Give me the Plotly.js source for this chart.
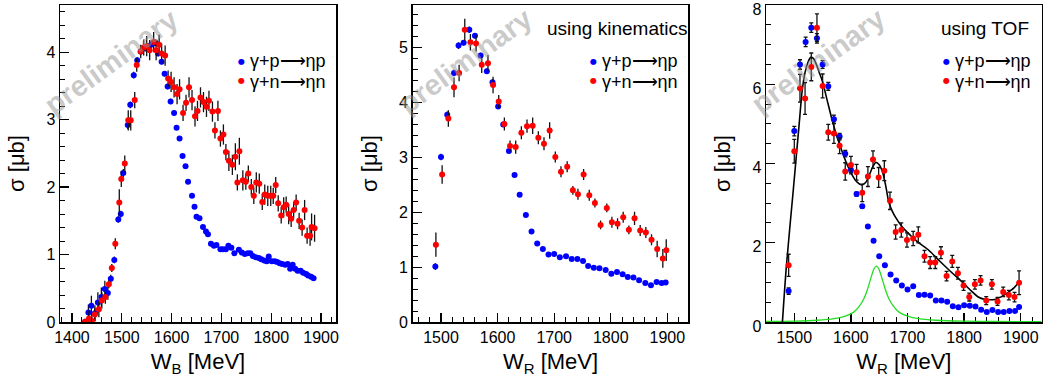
<!DOCTYPE html>
<html><head><meta charset="utf-8">
<script src="https://cdn.plot.ly/plotly-3.0.1.min.js"></script>
<style>html,body{margin:0;padding:0;background:#fff}#chart{width:1044px;height:380px}</style>
</head><body><div id="chart"></div>
<script>
// ---------- Panel 1 (W_B) ----------
const p1BlueX = [1426,1433,1439,1446,1452,1459,1466,1472,1478,1485,1493,1498,1503,1512,1517,1524,1531,1538,1547,1555,1561,1568,1573,1580,1586,1592,1598,1605,1610,1616,1622,1628,1633,1641,1646,1650,1656,1663,1669,1673,1679,1685,1690,1698,1703,1709,1714,1720,1726,1735,1741,1747,1753,1758,1763,1769,1775,1780,1786,1791,1795,1801,1807,1812,1817,1822,1828,1833,1838,1843,1848,1853,1859,1864,1870,1874,1880,1885];
const p1BlueY = [0.00,0.14,0.24,0.13,0.29,0.37,0.49,0.43,0.64,0.92,1.52,1.60,2.21,2.92,3.22,3.66,3.88,4.01,4.06,4.09,4.12,4.14,3.98,3.86,3.68,3.49,3.27,3.10,2.88,2.72,2.46,2.31,2.08,1.87,1.71,1.56,1.54,1.41,1.34,1.30,1.16,1.13,1.14,1.08,1.08,1.08,1.13,1.10,1.02,1.07,1.03,1.01,1.02,1.02,0.98,0.96,0.95,0.93,0.91,0.90,0.97,0.90,0.90,0.89,0.87,0.86,0.85,0.86,0.79,0.85,0.79,0.76,0.76,0.73,0.71,0.69,0.67,0.65];
const p1BlueE = [0.05,0.12,0.15,0.12,0.15,0.14,0.12,0.10,0.06,0.05,0.05,0.05,0.06,0.06,0.05,0.05,0.05,0.05,0.05,0.05,0.05,0.05,0.04,0.04,0.04,0.04,0.04,0.04,0.03,0.03,0.02,0.02,0.02,0.02,0.02,0.02,0.02,0.02,0.02,0.02,0.02,0.02,0.02,0.02,0.02,0.02,0.02,0.02,0.02,0.02,0.02,0.02,0.02,0.02,0.02,0.02,0.02,0.02,0.02,0.02,0.02,0.02,0.02,0.02,0.02,0.02,0.02,0.02,0.02,0.02,0.02,0.02,0.02,0.02,0.02,0.02,0.02,0.02];
const p1RedX = [1426,1434,1440,1446,1454,1460,1467,1474,1480,1487,1495,1499,1506,1513,1518,1526,1530,1538,1544,1550,1556,1564,1569,1575,1580,1587,1593,1599,1605,1611,1616,1623,1629,1635,1641,1647,1652,1658,1664,1670,1675,1682,1687,1693,1698,1704,1709,1715,1722,1728,1732,1736,1743,1749,1754,1760,1765,1770,1776,1782,1787,1793,1799,1804,1809,1814,1820,1825,1830,1835,1840,1845,1850,1856,1862,1867,1872,1878,1881,1887];
const p1RedY = [0.00,0.05,0.02,0.11,0.19,0.32,0.37,0.56,0.80,1.16,1.77,2.12,2.35,2.99,2.99,3.29,3.81,4.01,4.07,4.09,4.03,4.15,4.03,4.11,3.98,3.95,3.61,3.56,3.48,3.38,3.45,3.10,3.25,3.48,3.29,3.05,3.13,3.33,3.26,3.19,3.28,3.12,2.84,3.13,2.72,2.78,2.52,2.39,2.33,2.45,2.07,2.53,2.10,2.08,2.20,2.00,1.87,2.07,2.05,1.78,1.89,1.87,1.87,1.87,2.03,1.76,1.58,1.70,1.74,1.60,1.53,1.66,1.77,1.50,1.40,1.66,1.28,1.28,1.41,1.39];
const p1RedE = [0.05,0.12,0.10,0.10,0.12,0.12,0.10,0.06,0.06,0.08,0.20,0.12,0.12,0.15,0.15,0.12,0.10,0.10,0.12,0.15,0.15,0.15,0.15,0.15,0.15,0.15,0.12,0.15,0.15,0.15,0.15,0.12,0.12,0.15,0.15,0.15,0.15,0.15,0.15,0.15,0.15,0.15,0.12,0.15,0.12,0.15,0.12,0.15,0.15,0.20,0.12,0.20,0.15,0.12,0.12,0.12,0.12,0.15,0.15,0.12,0.15,0.15,0.15,0.12,0.12,0.12,0.12,0.15,0.12,0.15,0.12,0.12,0.12,0.12,0.12,0.15,0.12,0.15,0.20,0.20];

// ---------- Panel 2 (W_R, using kinematics) ----------
const p2BlueX = [1490,1500,1511,1523,1531,1540,1550,1560,1570,1581,1591,1601,1610,1620,1630,1639,1650,1660,1670,1680,1690,1700,1710,1721,1731,1741,1751,1760,1770,1780,1791,1801,1811,1821,1830,1840,1850,1861,1871,1881,1890,1897];
const p2BlueY = [1.01,3.01,3.78,4.54,5.04,5.09,5.33,5.22,4.86,4.57,4.37,3.93,3.60,3.12,2.68,2.32,1.95,1.65,1.43,1.33,1.23,1.24,1.18,1.20,1.15,1.15,1.11,1.02,0.99,0.98,0.95,0.88,0.91,0.87,0.82,0.81,0.76,0.71,0.67,0.73,0.71,0.72];
const p2BlueE = [0.06,0.06,0.06,0.06,0.06,0.05,0.06,0.05,0.05,0.05,0.05,0.04,0.04,0.03,0.02,0.02,0.02,0.02,0.02,0.02,0.02,0.02,0.02,0.02,0.02,0.02,0.02,0.02,0.02,0.02,0.02,0.02,0.02,0.02,0.02,0.02,0.02,0.02,0.02,0.02,0.02,0.02];
const p2RedX = [1491,1502,1513,1523,1532,1542,1552,1562,1572,1583,1592,1602,1612,1622,1632,1642,1652,1662,1672,1682,1692,1702,1712,1723,1733,1742,1752,1762,1772,1782,1793,1802,1812,1822,1832,1842,1852,1862,1872,1882,1892,1898];
const p2RedY = [1.41,2.69,3.71,4.28,4.54,5.33,5.10,5.08,4.69,4.72,4.32,4.02,3.61,3.21,3.19,3.45,3.57,3.58,3.36,3.25,3.49,3.01,2.74,2.83,2.40,2.33,2.69,2.31,2.17,1.77,2.08,1.82,1.79,1.91,1.68,1.89,1.67,1.63,1.50,1.33,1.16,1.31];
const p2RedE = [0.22,0.17,0.15,0.18,0.15,0.20,0.15,0.15,0.15,0.15,0.15,0.12,0.12,0.10,0.12,0.12,0.12,0.15,0.12,0.12,0.15,0.10,0.10,0.10,0.08,0.10,0.10,0.10,0.08,0.08,0.08,0.10,0.10,0.10,0.08,0.12,0.10,0.10,0.10,0.15,0.17,0.20];

// ---------- Panel 3 (W_R, using TOF) ----------
const p3BlueX = [1490,1500,1510,1520,1530,1540,1550,1560,1570,1580,1590,1600,1610,1620,1630,1640,1650,1660,1670,1680,1690,1700,1710,1720,1730,1740,1750,1760,1770,1780,1790,1800,1810,1820,1830,1840,1850,1860,1870,1880,1890,1897];
const p3BlueY = [0.78,4.82,6.50,7.07,7.43,7.16,6.50,5.95,5.12,4.68,4.25,3.84,3.23,2.92,2.41,2.05,1.66,1.43,1.20,1.05,0.92,0.82,0.90,0.68,0.69,0.67,0.54,0.54,0.51,0.40,0.37,0.42,0.41,0.39,0.31,0.25,0.30,0.25,0.25,0.28,0.28,0.38];
const p3BlueE = [0.08,0.12,0.12,0.12,0.12,0.12,0.10,0.10,0.10,0.08,0.08,0.06,0.05,0.04,0.04,0.03,0.03,0.03,0.03,0.03,0.03,0.03,0.03,0.03,0.03,0.03,0.03,0.03,0.03,0.03,0.03,0.03,0.03,0.03,0.03,0.03,0.03,0.03,0.03,0.03,0.03,0.03];
const p3RedX = [1490,1500,1510,1519,1530,1540,1550,1560,1570,1580,1590,1600,1610,1620,1630,1639,1649,1659,1669,1679,1689,1699,1710,1719,1730,1740,1749,1759,1769,1779,1789,1799,1809,1819,1829,1839,1849,1859,1869,1879,1889,1897];
const p3RedY = [1.43,4.31,5.90,5.64,6.44,7.43,5.96,4.79,4.76,4.45,3.80,3.96,3.78,3.26,3.67,4.10,3.65,3.82,3.06,2.27,2.32,2.07,2.11,2.20,1.66,1.50,1.50,1.75,1.16,1.53,1.23,0.92,0.63,0.95,1.05,0.54,0.95,0.52,0.76,0.68,0.63,0.99];
const p3RedE = [0.28,0.30,0.35,0.40,0.35,0.35,0.30,0.20,0.25,0.20,0.22,0.22,0.20,0.22,0.25,0.22,0.25,0.25,0.22,0.18,0.18,0.18,0.18,0.20,0.15,0.15,0.15,0.15,0.12,0.15,0.15,0.12,0.10,0.12,0.12,0.10,0.12,0.10,0.12,0.12,0.12,0.30];
const p3FitX = [1479,1486,1498,1508,1514,1519,1524,1529,1534,1539,1544,1550,1558,1567,1576,1585,1594,1603,1611,1619,1626,1632,1638,1644,1650,1656,1662,1667,1673,1679,1688,1697,1708,1718,1736,1758,1778,1795,1810,1825,1837,1846,1854,1866,1877,1888,1897];
const p3FitY = [0.00,1.41,3.30,4.90,5.85,6.30,6.55,6.68,6.65,6.50,6.30,6.06,5.60,5.09,4.65,4.28,3.95,3.69,3.53,3.46,3.52,3.69,3.90,4.03,3.97,3.78,3.40,3.02,2.80,2.64,2.45,2.30,2.15,2.02,1.83,1.52,1.25,1.03,0.82,0.63,0.57,0.56,0.57,0.64,0.74,0.86,1.01];
const p3PeakX = [1450,1500,1540,1570,1590,1605,1615,1622,1628,1633,1637,1641,1645,1649,1653,1657,1662,1668,1675,1685,1700,1720,1750,1800,1850,1937];
const p3PeakY = [0.013,0.023,0.044,0.083,0.15,0.25,0.40,0.56,0.77,1.00,1.19,1.35,1.41,1.35,1.19,1.00,0.77,0.56,0.40,0.25,0.15,0.083,0.044,0.02,0.013,0.008];

// ---------- labels ----------
const legendP = 'γ+p⟶ηp';
const legendN = 'γ+n⟶ηn';
const SUB = '<span style="font-size:15px;baseline-shift:-5px">';
const xTitleB = 'W' + SUB + 'B</span> [MeV]';
const xTitleR = 'W' + SUB + 'R</span> [MeV]';
const yTitle = 'σ [μb]';
const watermark = 'preliminary';
const note2 = 'using kinematics';
const note3 = 'using TOF';

const FONT = 'Liberation Sans, Arial, Helvetica, sans-serif';
const BLUE = '#0000ff', RED = '#ff0000';
const W = 1044, H = 380, MT = 5, MB = 58;
const px = v => v / W;
const py = v => (H - MB - v) / (H - MT - MB);

function pts(x, y, e, color, xa, ya, cap) {
  return {type:'scatter', mode:'markers', x:x, y:y, xaxis:xa, yaxis:ya,
    marker:{color:color, size:6, line:{width:0}},
    error_y:{type:'data', array:e, visible:true, color:'#111', thickness:1.3, width:cap},
    showlegend:false, hoverinfo:'skip'};
}
function xax(dom, range, title, anchor, layer) {
  return {domain:dom, range:range, anchor:anchor, showline:true, mirror:true, linecolor:'#000', linewidth:1.5,
    ticks:'inside', ticklen:9, tickwidth:1.3, tickcolor:'#000', tick0:0, dtick:100, layer:layer,
    minor:{dtick:20, ticks:'inside', ticklen:5, tickwidth:1, tickcolor:'#000'},
    showgrid:false, zeroline:false, tickfont:{family:FONT, size:16, color:'#000'}, ticklabeloverflow:'allow',
    title:{text:title, font:{family:FONT, size:22, color:'#000'}, standoff:9}, fixedrange:true};
}
function yax(range, dtick, minor, anchor, shift) {
  return {domain:[0,1], range:range, anchor:anchor, showline:true, mirror:true, linecolor:'#000', linewidth:1.5,
    ticks:'inside', ticklen:9, tickwidth:1.3, tickcolor:'#000', tick0:0, dtick:dtick, ticklabelshift:shift,
    minor:{dtick:minor, ticks:'inside', ticklen:5, tickwidth:1, tickcolor:'#000'},
    showgrid:false, zeroline:false, tickfont:{family:FONT, size:16, color:'#000'}, ticklabeloverflow:'allow',
    title:{text:yTitle, font:{family:FONT, size:22, color:'#000'}, standoff:15}, fixedrange:true};
}

const traces = [
  pts(p1BlueX, p1BlueY, p1BlueE, BLUE, 'x', 'y', 0),
  pts(p1RedX, p1RedY, p1RedE, RED, 'x', 'y', 0),
  pts(p2BlueX, p2BlueY, p2BlueE, BLUE, 'x2', 'y2', 0),
  pts(p2RedX, p2RedY, p2RedE, RED, 'x2', 'y2', 0),
  {type:'scatter', mode:'lines', x:p3PeakX, y:p3PeakY, xaxis:'x3', yaxis:'y3', cliponaxis:false,
    line:{color:'#22dd22', width:1.3, shape:'spline', smoothing:0.8}, showlegend:false, hoverinfo:'skip'},
  {type:'scatter', mode:'lines', x:p3FitX, y:p3FitY, xaxis:'x3', yaxis:'y3',
    line:{color:'#000', width:1.6, shape:'spline', smoothing:0.8}, showlegend:false, hoverinfo:'skip'},
  pts(p3BlueX, p3BlueY, p3BlueE, BLUE, 'x3', 'y3', 2),
  pts(p3RedX, p3RedY, p3RedE, RED, 'x3', 'y3', 2)
];

function dot(cx, cy, color) {
  return {xref:'paper', yref:'paper', x:px(cx), y:py(cy), xanchor:'center', yanchor:'middle', showarrow:false,
    text:'●', font:{family:'DejaVu Sans', size:8, color:color}, borderpad:0};
}
function legendText(xp, ypx, label) {
  return {xref:'paper', yref:'paper', x:px(xp), y:py(ypx), xanchor:'left', yanchor:'middle', showarrow:false,
    text:label, font:{family:FONT, size:18, color:'#000'}, borderpad:0};
}
function mark(cx, cy) {
  return {xref:'paper', yref:'paper', x:px(cx), y:py(cy), xanchor:'center', yanchor:'middle', showarrow:false,
    text:'<b>' + watermark + '</b>', textangle:-36, borderpad:0,
    font:{family:FONT, size:29, color:'rgba(150,150,150,0.5)'}};
}
function note(xp, label) {
  return {xref:'paper', yref:'paper', x:px(xp), y:py(29), xanchor:'left', yanchor:'middle', showarrow:false,
    text:label, font:{family:FONT, size:19, color:'#000'}, borderpad:0};
}

const layout = {
  width:W, height:H, margin:{l:0, r:0, t:MT, b:MB}, paper_bgcolor:'#fff', plot_bgcolor:'#fff',
  showlegend:false,
  xaxis: xax([60/W, 336/W], [1376, 1930], xTitleB, 'y', 'above traces'),
  yaxis: yax([0, 4.70], 1, 0.2, 'x', 0),
  xaxis2: xax([412.7/W, 688.3/W], [1450, 1937], xTitleR, 'y2', 'above traces'),
  yaxis2: yax([0, 5.78], 1, 0.2, 'x2', 0),
  xaxis3: xax([766/W, 1041.7/W], [1450, 1937], xTitleR, 'y3', 'below traces'),
  yaxis3: yax([0, 8.002], 2, 0.5, 'x3', 4),
  annotations: [
    mark(111, 62), mark(465, 61), mark(818, 61),
    dot(241.7, 61, BLUE), legendText(249, 60.5, legendP),
    dot(241.7, 81, RED), legendText(249, 81.5, legendN),
    dot(593.3, 61, BLUE), legendText(601, 60.5, legendP),
    dot(593.3, 81, RED), legendText(601, 81.5, legendN),
    dot(946.7, 61, BLUE), legendText(954, 60.5, legendP),
    dot(946.7, 81, RED), legendText(954, 81.5, legendN),
    note(546, note2), note(940, note3)
  ]
};

Plotly.newPlot('chart', traces, layout, {staticPlot:true, displayModeBar:false});
</script>
</body></html>
